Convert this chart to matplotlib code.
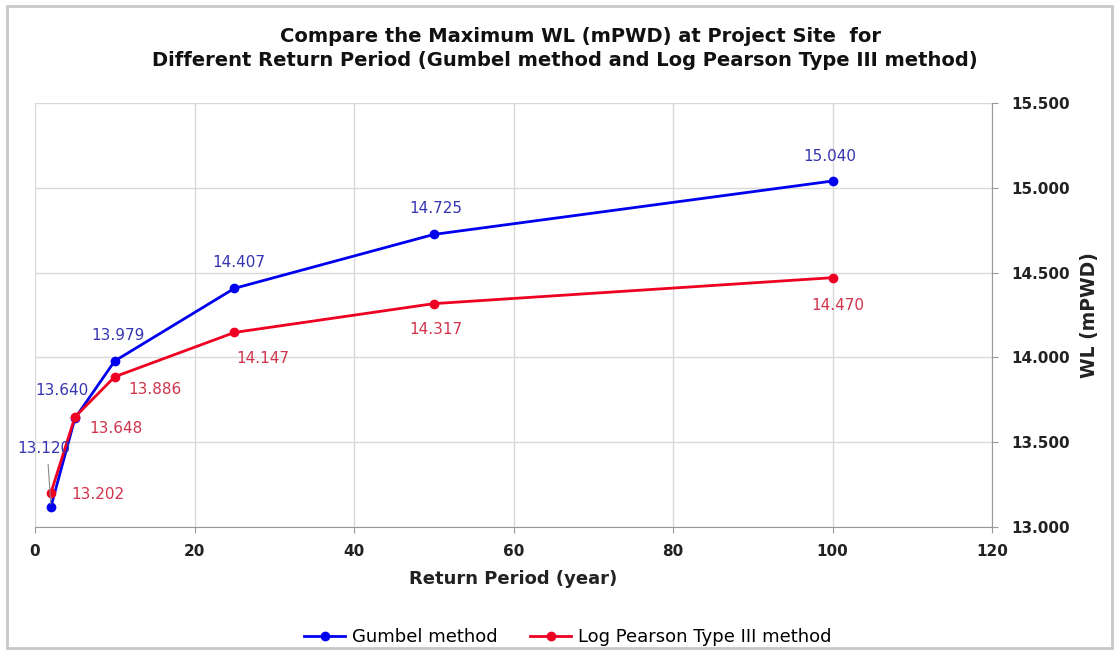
import matplotlib
matplotlib.use("Agg")
import matplotlib.pyplot as plt
from matplotlib.patches import Rectangle

plt.rcParams['font.family'] = ['DejaVu Sans']

return_period = [2, 5, 10, 25, 50, 100]
gumbel = [13.120, 13.640, 13.979, 14.407, 14.725, 15.040]
lp3 = [13.202, 13.648, 13.886, 14.147, 14.317, 14.470]

# label offsets in pixels (dx, dy) from each point
gumbel_offsets = [(-7, 58), (-13, 28), (3, 25), (4, 26), (2, 26), (-3, 25)]
lp3_offsets = [(47, -2), (41, -11), (40, -13), (28, -26), (2, -26), (5, -28)]

fig = plt.figure(figsize=(11.17, 6.64), dpi=100)
fig.patches.append(Rectangle((7 / 1117, 1 - 648 / 664), 1105 / 1117, 642 / 664,
                             transform=fig.transFigure, fill=False,
                             edgecolor='#c8c8c8', linewidth=2))

ax = fig.add_axes([35 / 1117, 1 - 527 / 664, 957 / 1117, 424 / 664])
ax.plot(return_period, gumbel, '-o', color='#0000ee', lw=2, ms=6,
        label='Gumbel method', zorder=3)
ax.plot(return_period, lp3, '-o', color='#ee0022', lw=2, ms=6,
        label='Log Pearson Type III method', zorder=3)

for x, y, (dx, dy) in zip(return_period, gumbel, gumbel_offsets):
    ax.annotate('%.3f' % y, (x, y), xytext=(dx, dy), textcoords='offset pixels',
                ha='center', va='center', fontsize=11, color='#3535b0')
for x, y, (dx, dy) in zip(return_period, lp3, lp3_offsets):
    ax.annotate('%.3f' % y, (x, y), xytext=(dx, dy), textcoords='offset pixels',
                ha='center', va='center', fontsize=11, color='#d0344c')
# leader line for the crowded first label
ax.annotate('', (return_period[0], gumbel[0]), xytext=(-3, 45),
            textcoords='offset pixels',
            arrowprops=dict(arrowstyle='-', color='#888888', lw=0.8))

ax.set_xlim(0, 120)
ax.set_ylim(13.0, 15.5)
ax.set_xticks(range(0, 121, 20))
ax.set_yticks([13.0, 13.5, 14.0, 14.5, 15.0, 15.5])
ax.set_yticklabels(['%.3f' % v for v in ax.get_yticks()])
ax.yaxis.tick_right()
ax.yaxis.set_label_position('right')
ax.tick_params(axis='x', labelsize=11, colors='#999999', labelcolor='#222222',
               length=4, pad=8)
ax.tick_params(axis='y', labelsize=11, colors='#999999', labelcolor='#222222',
               length=4, pad=10)
for lab in ax.get_xticklabels() + ax.get_yticklabels():
    lab.set_fontweight('bold')

ax.grid(True, color='#d9d9d9', lw=1)
for side in ['top', 'left']:
    ax.spines[side].set_visible(False)
ax.spines['right'].set_color('#999999')
ax.spines['bottom'].set_color('#999999')

ax.set_xlabel('Return Period (year)', fontsize=13, fontweight='bold',
              color='#222222', labelpad=8)
ax.set_ylabel('WL (mPWD)', fontsize=13.5, fontweight='bold', color='#222222',
              labelpad=7)

fig.text(0.520, 1 - 37 / 664, 'Compare the Maximum WL (mPWD) at Project Site  for',
         ha='center', va='center', fontsize=14, fontweight='bold', color='#111111')
fig.text(0.506, 1 - 60 / 664,
         'Different Return Period (Gumbel method and Log Pearson Type III method)',
         ha='center', va='center', fontsize=14, fontweight='bold', color='#111111')

fig.legend(loc='center', bbox_to_anchor=(0.508, 1 - 637 / 664), ncol=2,
           frameon=False, fontsize=13, handlelength=2.3, handletextpad=0.35,
           columnspacing=1.8)

fig.savefig('out.png', dpi=100)
